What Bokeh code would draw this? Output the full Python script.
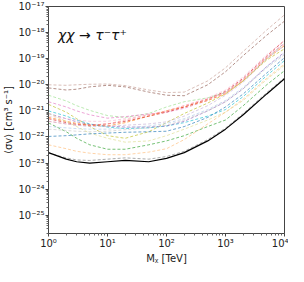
from bokeh.plotting import figure
from bokeh.models import Range1d, FixedTicker, CustomJSTickFormatter, Label
from bokeh.embed import file_html
from bokeh.resources import INLINE

# Dark-matter mass grid (TeV)
mass = [1, 2, 3, 5, 10, 20, 50, 100, 200, 500, 1000, 2000, 5000, 10000]

# log10 of <sigma v> upper limits [cm^3 s^-1]
lg_brown_light = [-20.0, -20.02, -20.0, -19.98, -19.97, -20.03, -20.2, -20.3, -20.28, -19.85, -19.35, -18.72, -17.9, -17.32]
lg_brown = [-20.12, -20.2, -20.17, -20.08, -20.02, -20.08, -20.28, -20.4, -20.42, -20.0, -19.5, -18.88, -18.1, -17.56]
lg_lightgreen = [-20.4, -20.62, -20.8, -20.98, -21.18, -21.25, -21.1, -20.85, -20.65, -20.5, -20.3, -19.85, -19.0, -18.4]
lg_pink = [-20.65, -20.85, -21.0, -21.15, -21.28, -21.22, -21.12, -21.05, -20.9, -20.6, -20.3, -19.8, -18.95, -18.4]
lg_olive = [-20.75, -21.05, -21.3, -21.6, -21.95, -22.05, -21.8, -21.45, -21.1, -20.7, -20.35, -19.85, -19.05, -18.62]
lg_cyan = [-21.0, -21.2, -21.35, -21.5, -21.62, -21.68, -21.65, -21.58, -21.45, -21.2, -20.95, -20.45, -19.65, -19.07]
lg_purple = [-21.1, -21.3, -21.42, -21.52, -21.58, -21.62, -21.62, -21.58, -21.4, -21.0, -20.65, -20.15, -19.3, -18.75]
lg_lightpink = [-21.2, -21.3, -21.35, -21.4, -21.4, -21.3, -21.15, -21.0, -20.8, -20.5, -20.2, -19.7, -18.85, -18.3]
lg_orange = [-21.25, -21.4, -21.48, -21.55, -21.58, -21.45, -21.2, -21.0, -20.85, -20.6, -20.35, -19.85, -19.0, -18.5]
lg_red = [-21.3, -21.45, -21.52, -21.55, -21.5, -21.4, -21.2, -21.05, -20.85, -20.55, -20.25, -19.75, -18.9, -18.3]
lg_lightred = [-21.4, -21.5, -21.55, -21.55, -21.5, -21.35, -21.15, -21.0, -20.8, -20.55, -20.3, -19.8, -18.95, -18.45]
lg_lightpurple = [-21.4, -21.5, -21.55, -21.6, -21.6, -21.55, -21.5, -21.42, -21.2, -20.8, -20.4, -19.9, -19.0, -18.5]
lg_green = [-21.46, -21.8, -22.05, -22.3, -22.47, -22.47, -22.3, -22.15, -21.95, -21.6, -21.35, -20.8, -20.0, -19.46]
lg_lightblue = [-21.6, -21.65, -21.68, -21.7, -21.7, -21.65, -21.58, -21.48, -21.3, -20.95, -20.6, -20.1, -19.3, -18.8]
lg_lightgray = [-21.7, -21.75, -21.78, -21.8, -21.78, -21.72, -21.65, -21.55, -21.35, -21.0, -20.65, -20.15, -19.35, -18.85]
lg_khaki = [-21.1, -21.4, -21.6, -21.85, -22.05, -22.2, -22.15, -21.95, -21.7, -21.35, -21.05, -20.6, -19.8, -19.25]
lg_blue = [-21.98, -21.95, -21.92, -21.88, -21.85, -21.82, -21.8, -21.78, -21.6, -21.25, -20.85, -20.35, -19.55, -18.96]
lg_lightorange = [-22.3, -22.45, -22.55, -22.62, -22.68, -22.68, -22.58, -22.45, -22.1, -21.5, -21.05, -20.55, -19.75, -19.2]
lg_gray = [-22.62, -22.8, -22.88, -22.9, -22.85, -22.8, -22.85, -22.75, -22.55, -22.1, -21.66, -21.1, -20.3, -19.73]
lg_combined = [-22.6, -22.85, -22.95, -23.0, -22.95, -22.9, -22.95, -22.82, -22.6, -22.15, -21.7, -21.15, -20.35, -19.77]

series = [
    (lg_brown_light, "#c49c94"), (lg_brown, "#8c564b"), (lg_lightgreen, "#98df8a"),
    (lg_pink, "#e377c2"), (lg_olive, "#bcbd22"), (lg_cyan, "#17becf"),
    (lg_purple, "#9467bd"), (lg_lightpink, "#f7b6d2"), (lg_orange, "#ff7f0e"),
    (lg_red, "#d62728"), (lg_lightred, "#ff9896"), (lg_lightpurple, "#c5b0d5"),
    (lg_green, "#2ca02c"), (lg_lightblue, "#aec7e8"), (lg_lightgray, "#c7c7c7"),
    (lg_khaki, "#dbdb8d"), (lg_blue, "#1f77b4"), (lg_lightorange, "#ffbb78"),
    (lg_gray, "#7f7f7f"),
]

p = figure(width=288, height=266, x_axis_type="log", y_axis_type="log",
           x_range=Range1d(1, 1e4), y_range=Range1d(2e-26, 1e-17),
           output_backend="svg", toolbar_location=None,
           min_border_left=35, min_border_right=4, min_border_top=6, min_border_bottom=0)

for lg, col in series:
    p.line(mass, [10 ** v for v in lg], line_color=col, line_width=1,
           line_dash="3 2", line_alpha=0.65)
p.line(mass, [10 ** v for v in lg_combined], line_color="black", line_width=1.2)

sup_js = """
const sup = {'-':'\u207b','0':'\u2070','1':'\u00b9','2':'\u00b2','3':'\u00b3','4':'\u2074',
             '5':'\u2075','6':'\u2076','7':'\u2077','8':'\u2078','9':'\u2079'};
const e = Math.round(Math.log10(tick));
return '10' + String(e).split('').map(c => sup[c]).join('');
"""
fmt_x = CustomJSTickFormatter(code=sup_js)
fmt_y = CustomJSTickFormatter(code=sup_js)

xt = [1, 10, 100, 1000, 10000]
xminor = [k * d for d in [1, 10, 100, 1000] for k in range(2, 10)]
yt = [10.0 ** e for e in range(-25, -16)]
yminor = [k * 10.0 ** e for e in range(-26, -17) for k in range(2, 10)]
p.xaxis.ticker = FixedTicker(ticks=xt, minor_ticks=xminor)
p.yaxis.ticker = FixedTicker(ticks=yt, minor_ticks=yminor)
p.xaxis.formatter = fmt_x
p.yaxis.formatter = fmt_y

for ax in (p.xaxis, p.yaxis):
    ax.major_label_text_font = "DejaVu Sans"
    ax.major_label_text_font_size = "10px"
    ax.major_label_text_color = "#222"
    ax.axis_label_text_font = "DejaVu Sans"
    ax.axis_label_text_font_size = "10px"
    ax.axis_label_text_font_style = "normal"
    ax.axis_label_text_color = "#222"
    ax.major_tick_out = 3
    ax.major_tick_in = 0
    ax.minor_tick_out = 2
    ax.minor_tick_in = 0
    ax.axis_line_color = "#444"
    ax.major_tick_line_color = "#444"
    ax.minor_tick_line_color = "#666"
    ax.major_label_standoff = 1
    ax.axis_label_standoff = 1

p.xaxis.axis_label = "Mᵪ [TeV]"
p.yaxis.axis_label = "⟨σv⟩ [cm³ s⁻¹]"

p.outline_line_color = "#444"
p.outline_line_alpha = 1
p.xgrid.visible = False
p.ygrid.visible = False
p.background_fill_color = "white"
p.border_fill_color = "white"

p.add_layout(Label(x=1.45, y=4e-19, text="χχ → τ⁻τ⁺", text_font="DejaVu Sans",
                   text_font_size="14px", text_font_style="italic", text_color="#111"))

open("out.html", "w").write(file_html(p, INLINE))
